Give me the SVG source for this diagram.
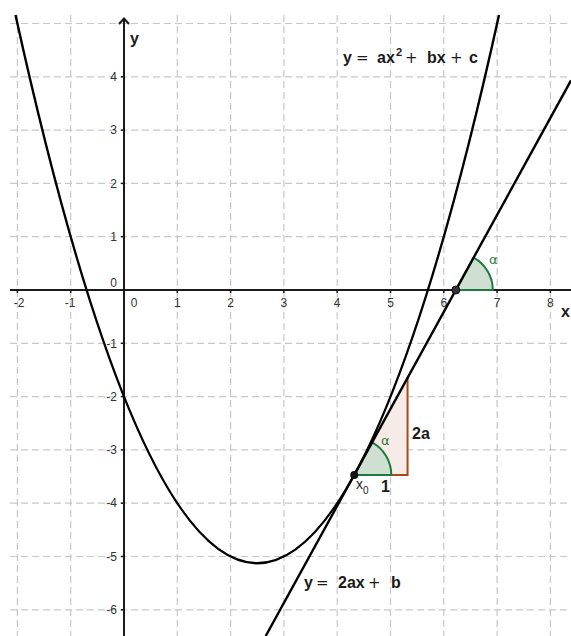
<svg xmlns="http://www.w3.org/2000/svg" width="571" height="636" viewBox="0 0 571 636">
<style>
.grid{stroke:#c8c8c8;stroke-width:1.2;stroke-dasharray:7,4;fill:none}
.axis{stroke:#1a1a1a;stroke-width:2;fill:none}
.tick{stroke:#1a1a1a;stroke-width:1.5}
.tl{font-family:"Liberation Sans",Arial,sans-serif;font-size:12px;fill:#333}
.curve{stroke:#000;stroke-width:2.4;fill:none}
.eq{font-family:"Liberation Sans",Arial,sans-serif;font-size:16px;font-weight:bold;fill:#1a1a1a}
.op{font-family:"DejaVu Sans","Liberation Sans",sans-serif;font-size:15px;font-weight:normal}
.wedge{fill:#cfe0d2;stroke:#1e7a3c;stroke-width:2}
.alpha{font-family:"DejaVu Sans","Liberation Sans",sans-serif;font-size:13px;fill:#1e7a3c}
</style>
<rect width="571" height="636" fill="#fff"/>
<g id="grid" class="grid">
<line x1="17.4" y1="15" x2="17.4" y2="636"/>
<line x1="70.7" y1="15" x2="70.7" y2="636"/>
<line x1="177.3" y1="15" x2="177.3" y2="636"/>
<line x1="230.6" y1="15" x2="230.6" y2="636"/>
<line x1="283.9" y1="15" x2="283.9" y2="636"/>
<line x1="337.2" y1="15" x2="337.2" y2="636"/>
<line x1="390.5" y1="15" x2="390.5" y2="636"/>
<line x1="443.8" y1="15" x2="443.8" y2="636"/>
<line x1="497.1" y1="15" x2="497.1" y2="636"/>
<line x1="550.4" y1="15" x2="550.4" y2="636"/>
<line x1="10" y1="23.5" x2="567" y2="23.5"/>
<line x1="10" y1="76.8" x2="567" y2="76.8"/>
<line x1="10" y1="130.1" x2="567" y2="130.1"/>
<line x1="10" y1="183.4" x2="567" y2="183.4"/>
<line x1="10" y1="236.7" x2="567" y2="236.7"/>
<line x1="10" y1="343.3" x2="567" y2="343.3"/>
<line x1="10" y1="396.6" x2="567" y2="396.6"/>
<line x1="10" y1="449.9" x2="567" y2="449.9"/>
<line x1="10" y1="503.2" x2="567" y2="503.2"/>
<line x1="10" y1="556.5" x2="567" y2="556.5"/>
<line x1="10" y1="609.8" x2="567" y2="609.8"/>
</g>
<g id="axes">
<line class="axis" x1="10" y1="290" x2="571" y2="290"/>
<line class="axis" x1="124" y1="19" x2="124" y2="636"/>
<path class="axis" d="M119,24 L124,18.5 L129,24" stroke-linejoin="miter"/>
<g class="tick">
<line x1="17.4" y1="290" x2="17.4" y2="293"/>
<line x1="70.7" y1="290" x2="70.7" y2="293"/>
<line x1="177.3" y1="290" x2="177.3" y2="293"/>
<line x1="230.6" y1="290" x2="230.6" y2="293"/>
<line x1="283.9" y1="290" x2="283.9" y2="293"/>
<line x1="337.2" y1="290" x2="337.2" y2="293"/>
<line x1="390.5" y1="290" x2="390.5" y2="293"/>
<line x1="443.8" y1="290" x2="443.8" y2="293"/>
<line x1="497.1" y1="290" x2="497.1" y2="293"/>
<line x1="550.4" y1="290" x2="550.4" y2="293"/>
<line x1="121" y1="76.8" x2="124" y2="76.8"/>
<line x1="121" y1="130.1" x2="124" y2="130.1"/>
<line x1="121" y1="183.4" x2="124" y2="183.4"/>
<line x1="121" y1="236.7" x2="124" y2="236.7"/>
<line x1="121" y1="343.3" x2="124" y2="343.3"/>
<line x1="121" y1="396.6" x2="124" y2="396.6"/>
<line x1="121" y1="449.9" x2="124" y2="449.9"/>
<line x1="121" y1="503.2" x2="124" y2="503.2"/>
<line x1="121" y1="556.5" x2="124" y2="556.5"/>
<line x1="121" y1="609.8" x2="124" y2="609.8"/>
</g>
<g class="tl" text-anchor="middle">
<text x="19" y="307">-2</text>
<text x="70" y="307">-1</text>
<text x="134" y="307">0</text>
<text x="177.3" y="307">1</text>
<text x="230.6" y="307">2</text>
<text x="283.9" y="307">3</text>
<text x="337.2" y="307">4</text>
<text x="390.5" y="307">5</text>
<text x="443.8" y="307">6</text>
<text x="497.1" y="307">7</text>
<text x="550.4" y="307">8</text>
</g>
<g class="tl" text-anchor="end">
<text x="117" y="81">4</text>
<text x="117" y="134.3">3</text>
<text x="117" y="187.6">2</text>
<text x="117" y="240.9">1</text>
<text x="117" y="287">0</text>
<text x="117" y="347.5">-1</text>
<text x="117" y="400.8">-2</text>
<text x="117" y="454.1">-3</text>
<text x="117" y="507.4">-4</text>
<text x="117" y="560.7">-5</text>
<text x="117" y="614">-6</text>
</g>
<text class="eq" x="130" y="44">y</text>
<text class="eq" x="561" y="317">x</text>
</g>
<g id="triangle">
<polygon points="354.26,474.9 407.56,474.9 407.56,377.9" fill="#f6ebe6"/>
<polyline points="354.26,474.9 407.56,474.9 407.56,377.9" fill="none" stroke="#a9481c" stroke-width="2"/>
</g>
<g id="angle-at-x0">
<path class="wedge" d="M354.26,474.9 L391.26,474.9 A37,37 0 0 0 372.08,442.47 Z"/>
<text class="alpha" x="381" y="445">α</text>
</g>
<g id="angle-at-root">
<path class="wedge" d="M455.8,290 L492.8,290 A37,37 0 0 0 473.62,257.57 Z"/>
<text class="alpha" x="489" y="264">α</text>
</g>
<g id="parabola">
<path class="curve" d="M15.5,15 Q257.25,1111.4 499,15"/>
</g>
<g id="tangent">
<line class="curve" x1="265.7" y1="636" x2="571" y2="80.4"/>
</g>
<g id="points">
<circle cx="354.26" cy="474.9" r="4" fill="#111"/>
<circle cx="455.8" cy="290" r="4" fill="#333" stroke="#111" stroke-width="1"/>
</g>
<g id="labels">
<text class="eq" y="63"><tspan x="343">y</tspan><tspan class="op" x="356">=</tspan><tspan x="377">ax</tspan><tspan x="396" y="56" font-size="11">2</tspan><tspan class="op" x="405" y="63">+</tspan><tspan x="427">bx</tspan><tspan class="op" x="450">+</tspan><tspan x="469">c</tspan></text>
<text class="eq" y="588"><tspan x="304">y</tspan><tspan class="op" x="316">=</tspan><tspan x="338">2ax</tspan><tspan class="op" x="368">+</tspan><tspan x="391">b</tspan></text>
<text class="eq" x="412" y="439">2a</text>
<text class="eq" x="381" y="492">1</text>
<text font-family="Liberation Sans,Arial,sans-serif" font-size="14" fill="#222" x="356" y="489">x<tspan font-size="10" dy="5">0</tspan></text>
</g>
</svg>
